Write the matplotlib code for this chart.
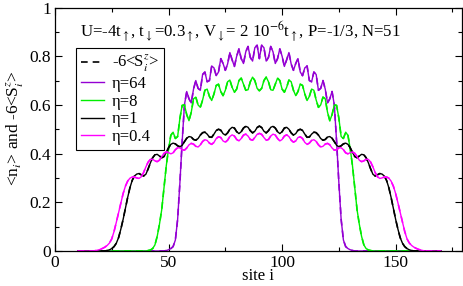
import numpy as np
import matplotlib
matplotlib.use("Agg")
import matplotlib.pyplot as plt
from matplotlib.lines import Line2D

plt.rcParams["font.family"] = ["Liberation Serif", "DejaVu Serif"]
plt.rcParams["mathtext.fontset"] = "stix"

# sites 10..170
site = np.arange(10, 171)

# eta = 1 (black)
n_eta1 = [
    0, 0, 0, 0, 0, 0, 0, 0, 0, 0,
    0, 0, 0, 0.002, 0.005, 0.01, 0.018, 0.032, 0.055, 0.09,
    0.13, 0.175, 0.22, 0.26, 0.29, 0.308, 0.316, 0.318, 0.313, 0.308,
    0.315, 0.337, 0.362, 0.383, 0.395, 0.397, 0.39, 0.383, 0.388, 0.405,
    0.424, 0.438, 0.443, 0.44, 0.432, 0.428, 0.434, 0.449, 0.463, 0.47,
    0.468, 0.458, 0.455, 0.462, 0.476, 0.486, 0.488, 0.48, 0.468, 0.467,
    0.48, 0.495, 0.5, 0.496, 0.482, 0.476, 0.485, 0.5, 0.508, 0.505,
    0.49, 0.482, 0.49, 0.505, 0.512, 0.508, 0.494, 0.485, 0.492, 0.507,
    0.513,
    0.507, 0.492, 0.485, 0.494, 0.508, 0.512, 0.505, 0.49, 0.482, 0.49,
    0.505, 0.508, 0.5, 0.485, 0.476, 0.482, 0.496, 0.5, 0.495, 0.48,
    0.467, 0.468, 0.48, 0.488, 0.486, 0.476, 0.462, 0.455, 0.458, 0.468,
    0.47, 0.463, 0.449, 0.434, 0.428, 0.432, 0.44, 0.443, 0.438, 0.424,
    0.405, 0.388, 0.383, 0.39, 0.397, 0.395, 0.383, 0.362, 0.337, 0.315,
    0.308, 0.313, 0.318, 0.316, 0.308, 0.29, 0.26, 0.22, 0.175, 0.13,
    0.09, 0.055, 0.032, 0.018, 0.01, 0.005, 0.002, 0, 0, 0,
    0, 0, 0, 0, 0, 0, 0, 0, 0, 0,
]

# eta = 0.4 (magenta)
n_eta04 = [
    0, 0, 0, 0, 0, 0, 0, 0, 0.002, 0.004,
    0.007, 0.011, 0.016, 0.023, 0.033, 0.05, 0.08, 0.118, 0.158, 0.198,
    0.236, 0.266, 0.287, 0.299, 0.304, 0.304, 0.3, 0.298, 0.305, 0.322,
    0.345, 0.365, 0.376, 0.377, 0.37, 0.367, 0.373, 0.388, 0.401, 0.407,
    0.404, 0.399, 0.403, 0.416, 0.424, 0.423, 0.416, 0.414, 0.423, 0.436,
    0.442, 0.439, 0.43, 0.427, 0.436, 0.45, 0.457, 0.454, 0.443, 0.438,
    0.446, 0.462, 0.469, 0.466, 0.452, 0.447, 0.455, 0.47, 0.477, 0.472,
    0.458, 0.452, 0.462, 0.476, 0.48, 0.472, 0.458, 0.455, 0.466, 0.479,
    0.483,
    0.479, 0.466, 0.455, 0.458, 0.472, 0.48, 0.476, 0.462, 0.452, 0.458,
    0.472, 0.477, 0.47, 0.455, 0.447, 0.452, 0.466, 0.469, 0.462, 0.446,
    0.438, 0.443, 0.454, 0.457, 0.45, 0.436, 0.427, 0.43, 0.439, 0.442,
    0.436, 0.423, 0.414, 0.416, 0.423, 0.424, 0.416, 0.403, 0.399, 0.404,
    0.407, 0.401, 0.388, 0.373, 0.367, 0.37, 0.377, 0.376, 0.365, 0.345,
    0.322, 0.305, 0.298, 0.3, 0.304, 0.304, 0.299, 0.287, 0.266, 0.236,
    0.198, 0.158, 0.118, 0.08, 0.05, 0.033, 0.023, 0.016, 0.011, 0.007,
    0.004, 0.002, 0, 0, 0, 0, 0, 0, 0, 0,
]

# eta = 8 (green)
n_eta8 = [
    0, 0, 0, 0, 0, 0, 0, 0, 0, 0,
    0, 0, 0, 0, 0, 0, 0, 0, 0, 0,
    0, 0, 0, 0, 0, 0, 0, 0, 0, 0,
    0, 0.002, 0.004, 0.01, 0.025, 0.06, 0.11, 0.17, 0.26, 0.35,
    0.42, 0.475, 0.488, 0.462, 0.47, 0.545, 0.598, 0.6, 0.56, 0.535,
    0.57, 0.625, 0.632, 0.6, 0.59, 0.62, 0.66, 0.665, 0.635, 0.618,
    0.645, 0.68, 0.685, 0.655, 0.638, 0.66, 0.695, 0.702, 0.672, 0.652,
    0.665, 0.7, 0.71, 0.685, 0.66, 0.662, 0.695, 0.714, 0.7, 0.668,
    0.658,
    0.668, 0.7, 0.714, 0.695, 0.662, 0.66, 0.685, 0.71, 0.7, 0.665,
    0.652, 0.672, 0.702, 0.695, 0.66, 0.638, 0.655, 0.685, 0.68, 0.645,
    0.618, 0.635, 0.665, 0.66, 0.62, 0.59, 0.6, 0.632, 0.625, 0.57,
    0.535, 0.56, 0.6, 0.598, 0.545, 0.47, 0.462, 0.488, 0.475, 0.42,
    0.35, 0.26, 0.17, 0.11, 0.06, 0.025, 0.01, 0.004, 0.002, 0,
    0, 0, 0, 0, 0, 0, 0, 0, 0, 0,
    0, 0, 0, 0, 0, 0, 0, 0, 0, 0,
    0, 0, 0, 0, 0, 0, 0, 0, 0, 0,
]

# eta = 64 (violet)
n_eta64 = [
    0, 0, 0, 0, 0, 0, 0, 0, 0, 0,
    0, 0, 0, 0, 0, 0, 0, 0, 0, 0,
    0, 0, 0, 0, 0, 0, 0, 0, 0, 0,
    0, 0, 0, 0, 0, 0, 0, 0, 0, 0.002,
    0.005, 0.01, 0.018, 0.045, 0.13, 0.28, 0.45, 0.6, 0.655, 0.625,
    0.608, 0.665, 0.7, 0.668, 0.66, 0.725, 0.735, 0.695, 0.7, 0.76,
    0.752, 0.72, 0.735, 0.79, 0.77, 0.742, 0.768, 0.815, 0.785, 0.758,
    0.8, 0.83, 0.79, 0.77, 0.818, 0.84, 0.795, 0.78, 0.835, 0.845,
    0.79,
    0.845, 0.835, 0.78, 0.795, 0.84, 0.818, 0.77, 0.79, 0.83, 0.8,
    0.758, 0.785, 0.815, 0.768, 0.742, 0.77, 0.79, 0.735, 0.72, 0.752,
    0.76, 0.7, 0.695, 0.735, 0.725, 0.66, 0.668, 0.7, 0.665, 0.608,
    0.625, 0.655, 0.6, 0.45, 0.28, 0.13, 0.045, 0.018, 0.01, 0.005,
    0.002, 0, 0, 0, 0, 0, 0, 0, 0, 0,
    0, 0, 0, 0, 0, 0, 0, 0, 0, 0,
    0, 0, 0, 0, 0, 0, 0, 0, 0, 0,
    0, 0, 0, 0, 0, 0, 0, 0, 0, 0,
]

# -6<Sz_i> follows the density closely
sz_eta64 = n_eta64
sz_eta8 = n_eta8
sz_eta1 = n_eta1
sz_eta04 = n_eta04

curves = [
    ("\u03b7=64", n_eta64, sz_eta64, "#9400d3"),
    ("\u03b7=8", n_eta8, sz_eta8, "#00ee00"),
    ("\u03b7=1", n_eta1, sz_eta1, "black"),
    ("\u03b7=0.4", n_eta04, sz_eta04, "#ff00ff"),
]

fig = plt.figure(figsize=(4.63, 2.86), dpi=100)
ax = fig.add_axes([55 / 463, 35 / 286, 406.5 / 463, 243.5 / 286])

handles = [Line2D([], [], color="black", lw=1.2, ls=(0, (4, 3)))]
labels = ["-6<S$^z_i$>"]
for name, dens, spin, col in curves:
    ln, = ax.plot(site, dens, color=col, lw=1.0)
    ax.plot(site, spin, color=col, lw=1.2, ls=(0, (4, 3)))
    handles.append(ln)
    labels.append(name)

ax.set_xlim(0, 179)
ax.set_ylim(0, 1)
ax.set_xticks([0, 50, 100, 150])
ax.set_xticks([25, 75, 125, 175], minor=True)
ax.set_yticks([0, 0.2, 0.4, 0.6, 0.8, 1])
ax.set_yticklabels(["0", "0.2", "0.4", "0.6", "0.8", "1"])
ax.set_yticks([0.1, 0.3, 0.5, 0.7, 0.9], minor=True)
ax.tick_params(which="both", direction="in", top=True, right=True,
               labelsize=12.5, width=0.8)
ax.tick_params(which="major", length=5, pad=3)
ax.tick_params(which="minor", length=2.8)
for sp in ax.spines.values():
    sp.set_linewidth(0.9)

ax.set_xlabel("site i", fontsize=12, labelpad=-2)
fig.text(15 / 463, 0.55, "<n$_i$> and -6<S$^z_i$>", rotation=90,
         ha="center", va="center", fontsize=12.5)

ax.text(0.062, 0.905,
        "U=-4t$_\\uparrow$, t$_\\downarrow$=0.3$_\\uparrow$, "
        "V$_\\downarrow$= 2 10$^{-6}$t$_\\uparrow$, P=-1/3, N=51",
        transform=ax.transAxes, ha="left", va="center", fontsize=12.1)

leg = ax.legend(handles, labels, loc="upper left",
                bbox_to_anchor=(0.052, 0.834), borderaxespad=0,
                fontsize=12, handlelength=1.4, handletextpad=0.45,
                labelspacing=0.1, borderpad=0.3, fancybox=False,
                framealpha=1, edgecolor="black")
leg.get_frame().set_linewidth(0.8)

fig.savefig("out.png", dpi=100)
